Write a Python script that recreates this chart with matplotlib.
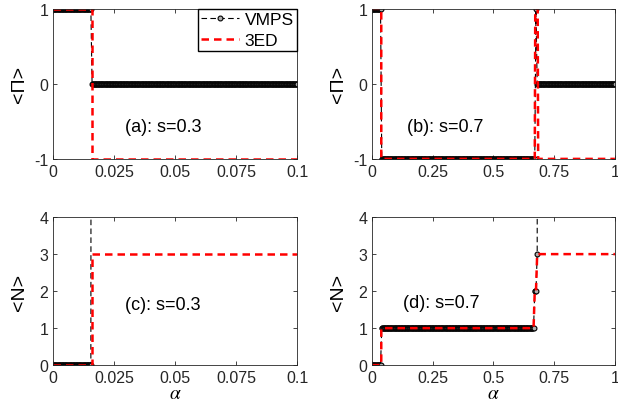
import numpy as np
import matplotlib.pyplot as plt

plt.rcParams['font.family'] = ['Liberation Sans', 'DejaVu Sans']
plt.rcParams['mathtext.fontset'] = 'stix'
plt.rcParams['axes.unicode_minus'] = False

# ---- data ----
# VMPS: piecewise constant segments (alpha_start, alpha_end, step, value)
vmps_a_seg = [(0.0, 0.0155, 0.00025, 1), (0.016, 0.1, 0.00025, 0)]
vmps_b_seg = [(0.0, 0.035, 0.0025, 1), (0.04, 0.67, 0.0025, -1),
              (0.675, 0.675, 0.0025, 1), (0.68, 1.0, 0.0025, 0)]
vmps_c_seg = [(0.0, 0.0155, 0.00025, 0), (0.016, 0.1, 0.00025, 50)]
vmps_d_seg = [(0.0, 0.035, 0.0025, 0), (0.04, 0.665, 0.0025, 1),
              (0.67, 0.675, 0.0025, 2), (0.68, 0.68, 0.0025, 3),
              (0.685, 1.0, 0.0025, 50)]

ed_a_alpha = [0, 0.016, 0.016, 0.1]
ed_a_val = [1, 1, -1, -1]
ed_b_alpha = [0, 0.038, 0.038, 0.67, 0.672, 0.682, 0.684, 1.0]
ed_b_val = [1, 1, -1, -1, 1, 1, -1, -1]
ed_c_alpha = [0, 0.016, 0.016, 0.1]
ed_c_val = [0, 0, 3, 3]
ed_d_alpha = [0, 0.038, 0.038, 0.665, 0.67, 0.675, 0.68, 1.0]
ed_d_val = [0, 0, 1, 1, 2, 2, 3, 3]

labels = ['(a): s=0.3', '(b): s=0.7', '(c): s=0.3', '(d): s=0.7']


def build(segs):
    xs, ys = [], []
    for a0, a1, da, v in segs:
        x = np.arange(a0, a1 + da / 2, da)
        xs.append(x)
        ys.append(np.full_like(x, v, dtype=float))
    return np.concatenate(xs), np.concatenate(ys)


fig = plt.figure(figsize=(6.18, 4.10), dpi=100)
pos = [[0.0858, 0.610, 0.395, 0.366], [0.602, 0.610, 0.393, 0.366],
       [0.0858, 0.107, 0.395, 0.361], [0.602, 0.107, 0.393, 0.361]]
vmps = [vmps_a_seg, vmps_b_seg, vmps_c_seg, vmps_d_seg]
eds = [(ed_a_alpha, ed_a_val), (ed_b_alpha, ed_b_val),
       (ed_c_alpha, ed_c_val), (ed_d_alpha, ed_d_val)]
text_xy = [(0.0295, -0.57), (0.144, -0.57), (0.0295, 1.65), (0.128, 1.68)]

for i in range(4):
    ax = fig.add_axes(pos[i])
    x, y = build(vmps[i])
    ax.plot(x, y, '--o', color='black', lw=0.8, ms=3.5, mfc='#b0b0b0',
            mec='black', mew=0.8, dashes=(5, 3), label='VMPS')
    ax.plot(eds[i][0], eds[i][1], '--', color='red', lw=1.8,
            dashes=(3, 2), label='3ED')
    small = i in (0, 2)
    if small:
        ax.set_xlim(0, 0.1)
        ax.set_xticks([0, 0.025, 0.05, 0.075, 0.1])
        ax.set_xticklabels(['0', '0.025', '0.05', '0.075', '0.1'])
    else:
        ax.set_xlim(0, 1)
        ax.set_xticks([0, 0.25, 0.5, 0.75, 1])
        ax.set_xticklabels(['0', '0.25', '0.5', '0.75', '1'])
    if i < 2:
        ax.set_ylim(-1, 1)
        ax.set_yticks([-1, 0, 1])
        ax.set_ylabel('<Π>', fontsize=14, labelpad=4)
    else:
        ax.set_ylim(0, 4)
        ax.set_yticks([0, 1, 2, 3, 4])
        ax.set_ylabel('<N>', fontsize=14, labelpad=8)
        ax.set_xlabel(r'$\alpha$', fontsize=14, labelpad=0)
    ax.tick_params(direction='in', top=True, right=True, labelsize=11.5,
                   length=3, width=0.6, colors='#262626')
    for s in ax.spines.values():
        s.set_linewidth(0.6)
        s.set_color('#262626')
    ax.text(text_xy[i][0], text_xy[i][1], labels[i], fontsize=13,
            va='center')
    if i == 0:
        ax.legend(loc='upper right', fontsize=12.5, handlelength=2.2,
                  fancybox=False, edgecolor='black', framealpha=1,
                  borderpad=0.2, labelspacing=0.3, handletextpad=0.3,
                  borderaxespad=0.0)

fig.savefig('out.png', dpi=100)
